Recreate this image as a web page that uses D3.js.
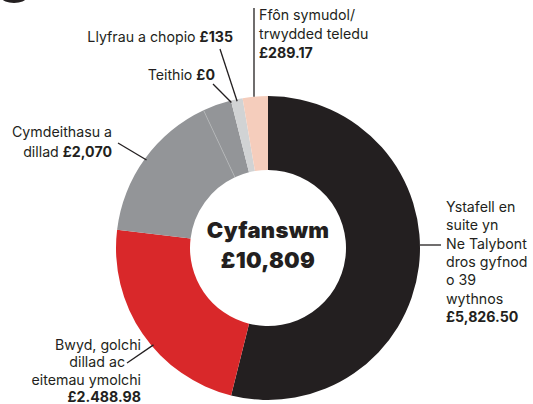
<!DOCTYPE html>
<head>
  <meta charset="utf-8">
  <script src="https://d3js.org/d3.v7.min.js"></script>
  <style>
    body { margin:0; background:#fff; }
    text { font-family: Inter, "Noto Sans", sans-serif; fill:#231f20; }
  </style>
</head>
<body>
<script>
  // slices, clockwise from 12 o'clock
  var slices = ["Ystafell", "Bwyd", "Cymdeithasu", "Dillad", "Teithio", "Llyfrau", "Ffon"];
  var values = [5826.50, 2488.98, 1741, 329, 0, 135, 289.17];
  var colours = ["#231f20", "#d9282a", "#939598", "#939598", "#d1d3d4", "#d1d3d4", "#f5cdbc"];

  // label text: plain lines, then bold amount
  var labelLines = {
    Ffon: ["Ffôn symudol/", "trwydded teledu"],
    Llyfrau: ["Llyfrau a chopio"],
    Teithio: ["Teithio"],
    Cymdeithasu: ["Cymdeithasu a", "dillad"],
    Bwyd: ["Bwyd, golchi", "dillad ac", "eitemau ymolchi"],
    Ystafell: ["Ystafell en", "suite yn", "Ne Talybont", "dros gyfnod", "o 39", "wythnos"]
  };
  var amounts = { Ffon: "£289.17", Llyfrau: "£135", Teithio: "£0", Cymdeithasu: "£2,070", Bwyd: "£2.488.98", Ystafell: "£5,826.50" };
  var totalLines = ["Cyfanswm", "£10,809"];

  var width = 533, height = 404;
  var cx = 268, cy = 248, rOuter = 152, rInner = 78;

  var svg = d3.select("body").append("svg")
    .attr("width", width)
    .attr("height", height);

  // bit of the heading cut off at the top
  svg.append("ellipse").attr("cx", 14).attr("cy", -2).attr("rx", 12).attr("ry", 5).attr("fill", "#231f20");

  var pie = d3.pie().sort(null).value(function(d){ return d; })
    .startAngle(0).endAngle(2 * Math.PI);
  var arcs = pie(values);
  var arc = d3.arc().innerRadius(rInner).outerRadius(rOuter);

  var g = svg.append("g").attr("transform", "translate(" + cx + "," + cy + ")");

  g.selectAll("path.slice")
    .data(arcs)
    .enter()
    .append("path")
    .attr("class", "slice")
    .attr("d", arc)
    .attr("fill", function(d, i){ return colours[i]; });

  // faint seam between the two grey slices
  var seam = arcs[3].startAngle;
  g.append("line")
    .attr("x1", rInner * Math.sin(seam)).attr("y1", -rInner * Math.cos(seam))
    .attr("x2", rOuter * Math.sin(seam)).attr("y2", -rOuter * Math.cos(seam))
    .attr("stroke", "#b4b6b8").attr("stroke-width", 0.8);

  function pointAt(a, r) {
    return [cx + r * Math.sin(a), cy - r * Math.cos(a)];
  }

  // label placement: x, first baseline, line step, anchor, leader start
  var layout = {
    Ffon:        { x: 259, y: 20,  lh: 19,   anchor: "start", from: [254, 8] },
    Llyfrau:     { x: 233, y: 42,  lh: 19,   anchor: "end",   from: [220, 49] },
    Teithio:     { x: 215, y: 80,  lh: 19,   anchor: "end",   from: [213, 84] },
    Cymdeithasu: { x: 112, y: 137, lh: 20,   anchor: "end",   from: [118, 143] },
    Bwyd:        { x: 141, y: 350, lh: 17.3, anchor: "end",   from: [127, 363], shift: 0.1 },
    Ystafell:    { x: 446, y: 212, lh: 18.3, anchor: "start", from: [441, 245] }
  };
  var lineShift = { Bwyd: { 1: -16 } };

  var labelsG = svg.append("g");

  slices.forEach(function(key, i){
    var L = layout[key];
    if (!L) return;
    var t = labelsG.append("text")
      .attr("text-anchor", L.anchor)
      .attr("font-size", 14.2);
    var lines = labelLines[key];
    var single = lines.length === 1;
    lines.forEach(function(s, j){
      var dx = (lineShift[key] && lineShift[key][j]) || 0;
      t.append("tspan").attr("x", L.x + dx).attr("y", L.y + j * L.lh).text(s + (single ? " " : ""));
    });
    if (single) {
      t.append("tspan").attr("font-weight", 700).text(amounts[key]);
    } else if (key === "Cymdeithasu") {
      t.select("tspan:last-child").text(lines[lines.length - 1] + " ");
      t.append("tspan").attr("font-weight", 700).text(amounts[key]);
    } else {
      t.append("tspan").attr("x", L.x).attr("y", L.y + lines.length * L.lh)
        .attr("font-weight", 700).text(amounts[key]);
    }

    // leader
    var end;
    if (key === "Ystafell") {
      var dy = L.from[1] - cy;
      end = [cx + Math.sqrt(rOuter * rOuter - dy * dy), L.from[1]];
    } else if (key === "Ffon") {
      var dx = L.from[0] - cx;
      end = [L.from[0], cy - Math.sqrt(rOuter * rOuter - dx * dx)];
    } else {
      var mid = (arcs[i].startAngle + arcs[i].endAngle) / 2 - (L.shift || 0);
      end = pointAt(mid, rOuter - 2);
    }
    labelsG.append("line")
      .attr("x1", L.from[0]).attr("y1", L.from[1])
      .attr("x2", end[0]).attr("y2", end[1])
      .attr("stroke", "#231f20").attr("stroke-width", 1.3);
  });

  // centre total
  svg.append("g").selectAll("text.total")
    .data(totalLines)
    .enter()
    .append("text")
    .attr("class", "total")
    .attr("x", cx)
    .attr("y", function(d, i){ return 238 + i * 30; })
    .attr("text-anchor", "middle")
    .attr("font-size", 22)
    .attr("font-weight", 900)
    .attr("letter-spacing", 0.3)
    .text(function(d){ return d; });
</script>
</body>
